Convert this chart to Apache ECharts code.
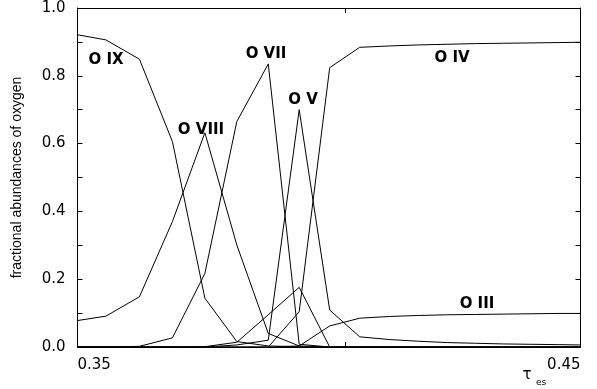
<!DOCTYPE html>
<html>
<head>
<meta charset="utf-8">
<script src="https://cdn.jsdelivr.net/npm/echarts@6/dist/echarts.min.js"></script>
<style>html,body{margin:0;padding:0;background:#fff}#c{width:597px;height:389px}</style>
</head>
<body>
<div id="c"></div>
<script>
// optical depth tau_es (x, log axis)
const tau = [0.35, 0.355, 0.361, 0.367, 0.373, 0.379, 0.385, 0.391, 0.397, 0.403, 0.409, 0.415, 0.421, 0.427, 0.433, 0.439, 0.445, 0.45];
const oIX   = [0.921, 0.906, 0.849, 0.606, 0.144, 0.016, 0.003, 0.001, 0, 0, 0, 0, 0, 0, 0, 0, 0, 0];
const oVIII = [0.078, 0.091, 0.148, 0.370, 0.632, 0.301, 0.040, 0.003, 0, 0, 0, 0, 0, 0, 0, 0, 0, 0];
const oVII  = [0, 0, 0.002, 0.027, 0.217, 0.665, 0.835, 0.008, 0, 0, 0, 0, 0, 0, 0, 0, 0, 0];
const oVI   = [0, 0, 0, 0, 0.001, 0.014, 0.095, 0.176, 0, 0, 0, 0, 0, 0, 0, 0, 0, 0];
const oV    = [0, 0, 0, 0, 0, 0.006, 0.020, 0.700, 0.109, 0.030, 0.022, 0.017, 0.013, 0.011, 0.009, 0.008, 0.007, 0.006];
const oIV   = [0, 0, 0, 0, 0, 0, 0, 0.104, 0.824, 0.884, 0.888, 0.891, 0.893, 0.895, 0.896, 0.897, 0.898, 0.899];
const oIII  = [0, 0, 0, 0, 0, 0, 0, 0.003, 0.062, 0.085, 0.090, 0.093, 0.095, 0.096, 0.097, 0.098, 0.099, 0.099];
const xTickLabels = [0.35, 0.45];
const xTicks = [0.35, 0.40, 0.45];
const ionNames = ['O IX', 'O VIII', 'O VII', 'O V', 'O IV', 'O III'];
const yName = 'fractional abundances of oxygen';

const chart = echarts.init(document.getElementById('c'), null, {renderer: 'canvas'});
const pair = arr => tau.map((t, i) => [t, arr[i]]);
const allSeries = [oIX, oVIII, oVII, oVI, oV, oIV, oIII];
const lineStyle = {color: '#000', width: 1};
const axisLine = {show: true, onZero: false, lineStyle: {color: '#000', width: 1}};
const labFont = {fontFamily: 'DejaVu Sans', fontSize: 15, fontWeight: 'bold', fill: '#000'};
const labPos = [[106, 60], [201, 130], [266, 54], [303, 100], [452, 58], [477, 304]];

chart.setOption({
  animation: false,
  backgroundColor: '#fff',
  grid: {left: 77.5, right: 16.5, top: 8, bottom: 42, containLabel: false},
  xAxis: [{
    type: 'log', logBase: 10, min: 0.35, max: 0.45, position: 'bottom',
    axisLine: axisLine,
    axisTick: {show: true, inside: true, length: 5, customValues: xTicks, lineStyle: {color: '#000'}},
    axisLabel: {show: true, customValues: xTickLabels, margin: 11, color: '#000',
      fontFamily: 'DejaVu Sans', fontSize: 15, alignMinLabel: 'left', alignMaxLabel: 'right',
      formatter: v => Number(v).toFixed(2)},
    splitLine: {show: false}
  }, {
    type: 'log', logBase: 10, min: 0.35, max: 0.45, position: 'top',
    axisLine: axisLine,
    axisTick: {show: true, inside: true, length: 5, customValues: [0.40], lineStyle: {color: '#000'}},
    axisLabel: {show: false, customValues: [0.40]},
    splitLine: {show: false}
  }],
  yAxis: [{
    type: 'value', min: 0, max: 1, interval: 0.2, position: 'left',
    name: yName, nameLocation: 'middle', nameGap: 53, nameRotate: 90,
    nameTextStyle: {fontFamily: 'Liberation Sans', fontSize: 14, color: '#000'},
    axisLine: axisLine,
    axisTick: {show: true, inside: true, length: 5, lineStyle: {color: '#000'}},
    minorTick: {show: true, splitNumber: 2, length: 5, lineStyle: {color: '#000'}},
    axisLabel: {color: '#000', fontFamily: 'DejaVu Sans', fontSize: 15, margin: 12,
      formatter: v => v.toFixed(1)},
    splitLine: {show: false}
  }, {
    type: 'value', min: 0, max: 1, interval: 0.2, position: 'right',
    axisLine: axisLine,
    axisTick: {show: true, inside: true, length: 5, lineStyle: {color: '#000'}},
    minorTick: {show: true, splitNumber: 2, length: 5, lineStyle: {color: '#000'}},
    axisLabel: {show: false},
    splitLine: {show: false}
  }],
  series: allSeries.map(a => ({
    type: 'line', data: pair(a), xAxisIndex: 0, yAxisIndex: 0,
    showSymbol: false, symbol: 'none', lineStyle: lineStyle, z: 2
  })).concat([{
    type: 'line', data: [], xAxisIndex: 1, yAxisIndex: 1, symbol: 'none', silent: true
  }]),
  graphic: ionNames.map((n, i) => ({
    type: 'text', x: labPos[i][0], y: labPos[i][1], z: 10,
    style: Object.assign({text: n, align: 'center', verticalAlign: 'middle'}, labFont)
  })).concat([{
    type: 'text', x: 527, y: 375, z: 10,
    style: {text: 'τ', fontFamily: 'DejaVu Sans', fontSize: 15, fill: '#000', align: 'center', verticalAlign: 'middle'}
  }, {
    type: 'text', x: 541, y: 383, z: 10,
    style: {text: 'es', fontFamily: 'DejaVu Sans', fontSize: 9, fill: '#000', align: 'center', verticalAlign: 'middle'}
  }])
});
</script>
</body>
</html>
